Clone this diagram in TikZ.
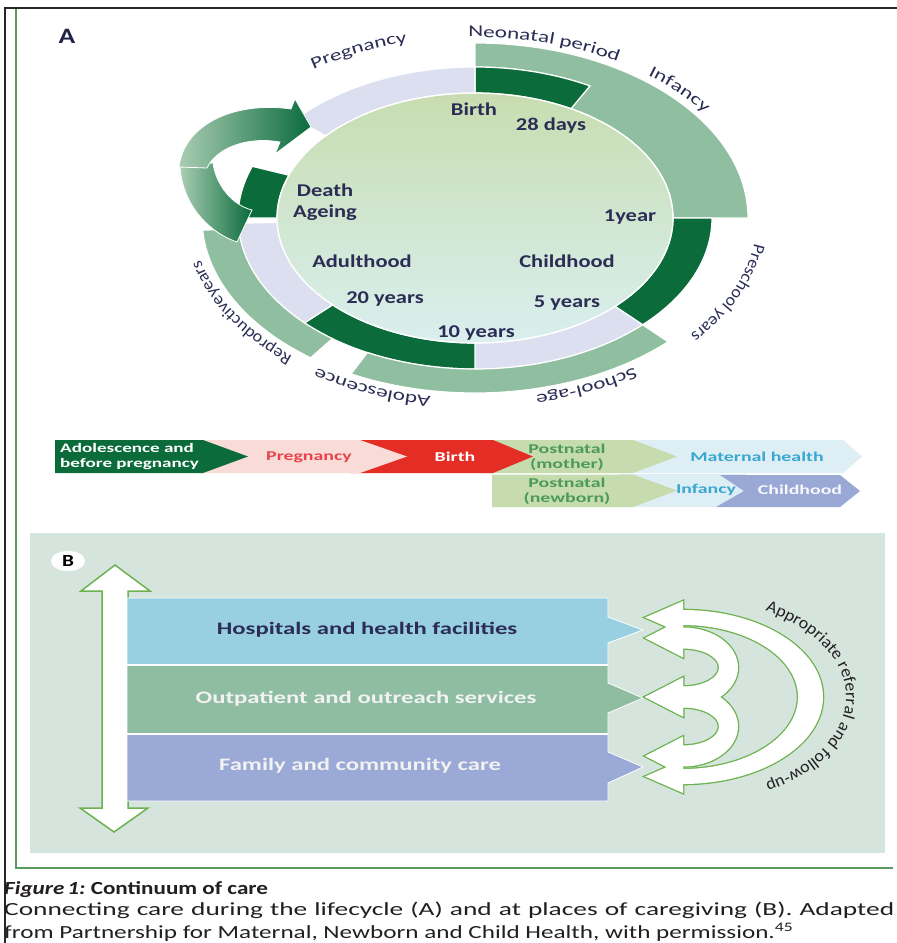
\documentclass[tikz,border=0pt]{standalone}
\usepackage{fontspec}
\setmainfont{Carlito}[FakeStretch=1.25]
\newfontfamily\labfontv{Carlito}[FakeStretch=1.05]
\newfontfamily\labfonth{Carlito}[FakeStretch=1.4]
\newfontfamily\capfont{Carlito}[FakeStretch=1.36]
\newfontfamily\capfontw{Carlito}[FakeStretch=1.48]
\newfontfamily\barfont{Carlito}[FakeStretch=1.41]
\newfontfamily\flowfont{Carlito}[FakeStretch=1.47]
\usetikzlibrary{calc,decorations.text}
\definecolor{dkg}{HTML}{0B6B3A}
\definecolor{ltg}{HTML}{8FBFA0}
\definecolor{lav}{HTML}{DCDFF0}
\definecolor{dtop}{HTML}{C7DDB0}
\definecolor{dbot}{HTML}{DAEFEF}
\definecolor{navy}{HTML}{2B2D55}
\definecolor{arrl}{HTML}{A9CDB2}
\definecolor{arrd}{HTML}{0A6B3C}
\definecolor{pinkbg}{HTML}{F9DCD8}
\definecolor{redbar}{HTML}{E42D24}
\definecolor{pgreen}{HTML}{C6DCAE}
\definecolor{pblue}{HTML}{DDEEF5}
\definecolor{childc}{HTML}{9AA8D6}
\definecolor{txtgreen}{HTML}{4C9A57}
\definecolor{txtblue}{HTML}{3AA7D0}
\definecolor{txtred}{HTML}{E8434B}
\definecolor{bgB}{HTML}{D5E5DE}
\definecolor{hosp}{HTML}{98D0E2}
\definecolor{outp}{HTML}{8FBDA1}
\definecolor{fam}{HTML}{9AA9D5}
\definecolor{frameg}{HTML}{5A9A5E}
\definecolor{arrg}{HTML}{6DB24F}
\definecolor{captc}{HTML}{231F20}
\newcommand\annsec[7]{\path[seg,fill=#1] ($(C)+(#2:#4pt and #5pt)$) arc[start angle=#2,end angle=#3,x radius=#4pt,y radius=#5pt] -- ($(C)+(#3:#6pt and #7pt)$) arc[start angle=#3,end angle=#2,x radius=#6pt,y radius=#7pt] -- cycle;}
\newcommand\labarc[4]{\path[decorate,decoration={text along path,text align=center,text={|#4\color{navy}|#1}}] ($(C)+(#2:282pt and 181pt)$) arc[start angle=#2,end angle=#3,x radius=282pt,y radius=181pt];}
\newcommand\refarrow[6]{%
 \path[#1] ($(#2)+(0,#4)$) arc[start angle=90,end angle=-90,x radius=#3pt,y radius=#4pt]
   -- ++(0,-9) -- ($(#2)+(-38,{-(#4+#6)/2})$) -- ($(#2)+(0,{-#6+9})$)
   -- ($(#2)+(0,-#6)$) arc[start angle=-90,end angle=90,x radius=#5pt,y radius=#6pt]
   -- ++(0,-9) -- ($(#2)+(-38,{(#4+#6)/2})$) -- ($(#2)+(0,{#4+9})$) -- cycle;}
\newcommand\hlab{\labfonth\fontsize{16.5}{18}\selectfont}
\newcommand\vlab{\labfontv\fontsize{17}{19}\selectfont}
\tikzset{
 inlab/.style={font=\fontsize{18}{20}\selectfont\bfseries, text=navy, inner sep=0pt, anchor=base},
 seg/.style={draw=white, line width=1.2pt},
 flow/.style={font=\flowfont\fontsize{13.5}{15}\selectfont\bfseries, inner sep=0pt, align=center},
 bartxt/.style={font=\barfont\fontsize{17.5}{20}\selectfont\bfseries, inner sep=0pt},
 arrline/.style={draw=arrg, line width=2.6pt},
 arrfill/.style={fill=white},
 capt/.style={font=\capfont\fontsize{18.5}{21}\selectfont, text=captc, inner sep=0pt, anchor=base west},
}
\begin{document}
\begin{tikzpicture}[x=1pt,y=1pt]
\useasboundingbox (0,0) rectangle (897,-943);
\fill[white] (0,0) rectangle (897,-943);
% frame
\draw[black!85, line width=2.2pt] (5,-943) -- (5,-8) -- (897,-8);
\draw[frameg, line width=1.5pt] (16,-9) -- (16,-868) -- (893,-868);
\node[font=\fontsize{22}{24}\selectfont\bfseries, text=navy!80!black, inner sep=0pt] (lblA) at (67,-36) {A};
% ---- life cycle ----
\coordinate (C) at (475,-218);
\shade[top color=dtop,bottom color=dbot] (C) ellipse[x radius=198pt,y radius=125pt];
\path[seg,fill=ltg] ($(C)+(90:237pt and 151pt)$) -- ($(C)+(90:273pt and 175pt)$) arc[start angle=90,end angle=0,x radius=273pt,y radius=175pt] -- ($(C)+(0:198pt and 125pt)$) arc[start angle=0,end angle=61,x radius=198pt,y radius=125pt] -- ($(C)+(61:237pt and 151pt)$) arc[start angle=61,end angle=90,x radius=237pt,y radius=151pt] -- cycle;
\annsec{dkg}{90}{61}{198}{125}{237}{151}
\annsec{dkg}{0}{-45}{198}{125}{237}{151}
\annsec{lav}{-45}{-90}{198}{125}{237}{151}
\annsec{dkg}{-90}{-136}{198}{125}{237}{151}
\annsec{lav}{-136}{-178}{198}{125}{237}{151}
\annsec{dkg}{-180}{-200}{198}{125}{237}{151}
\annsec{lav}{90}{139}{198}{125}{237}{151}
\annsec{ltg}{-45}{-117}{237}{151}{273}{175}
\annsec{ltg}{-127}{-176}{237}{151}{273}{175}
\draw[white,line width=1.2pt] (C) ellipse[x radius=198pt,y radius=125pt];
% curved arrow
\shade[left color=arrl, right color=arrd, draw=white, line width=0.8pt] (180,-165) .. controls (181,-200) and (205,-231) .. (237,-242) -- (252,-210) .. controls (232,-205) and (216,-185) .. (213,-163) -- cycle;
\shade[left color=arrl, right color=arrd, draw=white, line width=0.8pt] (179,-167) .. controls (184,-124) and (235,-101) .. (291,-109) -- (295,-99) -- (311,-127) -- (275,-154) -- (280,-142) .. controls (245,-136) and (216,-149) .. (207,-168) -- cycle;
% inner labels
\node[inlab] (birth) at (474,-115) {Birth};
\node[inlab] (d28) at (551,-130) {28 days};
\node[inlab] (death) at (325,-196) {Death};
\node[inlab] (ageing) at (325,-217) {Ageing};
\node[inlab] (y1) at (630,-221) {1year};
\node[inlab] (adult) at (362,-267) {Adulthood};
\node[inlab] (child) at (567,-267) {Childhood};
\node[inlab] (y20) at (385,-303) {20 years};
\node[inlab] (y5) at (567,-307) {5 years};
\node[inlab] (y10) at (476,-337) {10 years};
% outer arc labels
\labarc{Pregnancy}{134}{96}{\hlab}
\labarc{Neonatal period}{100}{50}{\hlab}
\labarc{Infancy}{56}{31}{\hlab}
\labarc{Preschool years}{2}{-48}{\vlab}
\labarc{School-age}{-46}{-86}{\hlab}
\labarc{Adolescence}{-92}{-132}{\hlab}
\labarc{Reproductiveyears}{-122}{-178}{\vlab}
% ---- flow bar ----
\fill[pblue] (620,-440) -- (843,-440) -- (862,-456.5) -- (843,-473) -- (620,-473) -- cycle;
\fill[pblue] (620,-474) rectangle (746,-507);
\fill[childc] (720,-475) -- (840,-475) -- (860,-491) -- (840,-507) -- (716,-507) -- (744,-491) -- cycle;
\fill[pgreen] (480,-440) -- (633,-440) -- (677,-456.5) -- (633,-473) -- (480,-473) -- cycle;
\fill[pgreen] (492,-474.5) -- (633,-474.5) -- (677,-490.5) -- (633,-507) -- (492,-507) -- cycle;
\fill[redbar] (350,-440) -- (493,-440) -- (533,-456.5) -- (493,-473) -- (350,-473) -- cycle;
\fill[pinkbg] (200,-440) -- (360,-440) -- (407,-456.5) -- (360,-473) -- (200,-473) -- cycle;
\fill[dkg] (55,-440) -- (203,-440) -- (248,-456.5) -- (203,-473) -- (55,-473) -- cycle;
\node[flow, text=white, align=left, anchor=west, font=\flowfont\fontsize{13}{14.5}\selectfont\bfseries] (fadol) at (60,-456.5) {Adolescence and\\before pregnancy};
\node[flow, text=txtred] (fpreg) at (309,-457) {Pregnancy};
\node[flow, text=white] (fbirth) at (455,-457) {Birth};
\node[flow, text=txtgreen] (fpm) at (567,-457) {Postnatal\\(mother)};
\node[flow, text=txtblue] (fmh) at (757,-457) {Maternal health};
\node[flow, text=txtgreen] (fpn) at (567,-491) {Postnatal\\(newborn)};
\node[flow, text=txtblue] (finf) at (706,-490) {Infancy};
\node[flow, text=white!92!childc] (fchild) at (800,-490) {Childhood};
% ---- part B ----
\fill[bgB] (30,-533) rectangle (885,-853);
\fill[white] (68,-561) ellipse[x radius=17pt, y radius=10pt];
\node[font=\fontsize{17}{19}\selectfont\bfseries, text=black, inner sep=0pt] (lblB) at (68,-561) {B};
\path[fill=white, draw=arrg, line width=1.5pt] (115,-565) -- (150,-591) -- (128,-591) -- (128,-808) -- (148,-808) -- (114,-832) -- (80,-808) -- (102,-808) -- (102,-591) -- (81,-591) -- cycle;
\path[fill=hosp, draw=white, line width=0.8pt] (127,-598) -- (608,-598) -- (608,-617) -- (643,-630) -- (608,-643) -- (608,-664.5) -- (127,-664.5) -- cycle;
\path[fill=outp, draw=white, line width=0.8pt] (127,-665.5) -- (608,-665.5) -- (608,-683) -- (643,-698) -- (608,-713) -- (608,-733.5) -- (127,-733.5) -- cycle;
\path[fill=fam, draw=white, line width=0.8pt] (127,-734.5) -- (608,-734.5) -- (608,-752) -- (643,-767) -- (608,-783) -- (608,-801) -- (127,-801) -- cycle;
\node[bartxt, text=navy] (hosp) at (367,-630) {Hospitals and health facilities};
\node[bartxt, text=white!95!black] (outp) at (366,-699) {Outpatient and outreach services};
\node[bartxt, text=white!95!black] (fam) at (360,-766) {Family and community care};
\coordinate (RB) at (683,-697);
\coordinate (RU) at (683,-667.5);
\coordinate (RL) at (683,-726.5);
\refarrow{arrline}{RB}{140}{87}{115}{72}
\refarrow{arrline}{RU}{55}{40}{36}{19}
\refarrow{arrline}{RL}{55}{40}{36}{19}
\refarrow{arrfill}{RB}{140}{87}{115}{72}
\refarrow{arrfill}{RU}{55}{40}{36}{19}
\refarrow{arrfill}{RL}{55}{40}{36}{19}
\path[decorate,decoration={text along path,text align=center,text={|\labfontv\fontsize{17}{19}\selectfont\color{captc}|Appropriate referral and follow-up}}] ($(RB)+(62:163pt and 100pt)$) arc[start angle=62,end angle=-62,x radius=163pt,y radius=100pt];
% ---- caption ----
\node[capt, font=\fontsize{18.5}{21}\selectfont] (cap1) at (4,-894) {\bfseries\itshape Figure\,1:\upshape\ Continuum of care};
\node[capt, font=\capfontw\fontsize{18.5}{21}\selectfont] (cap2) at (4,-915) {\makebox[890pt][s]{Connecting care during the lifecycle (A) and at places of caregiving (B). Adapted}};
\node[capt] (cap3) at (4,-938) {from Partnership for Maternal, Newborn and Child Health, with permission.\textsuperscript{45}};
\end{tikzpicture}
\end{document}
